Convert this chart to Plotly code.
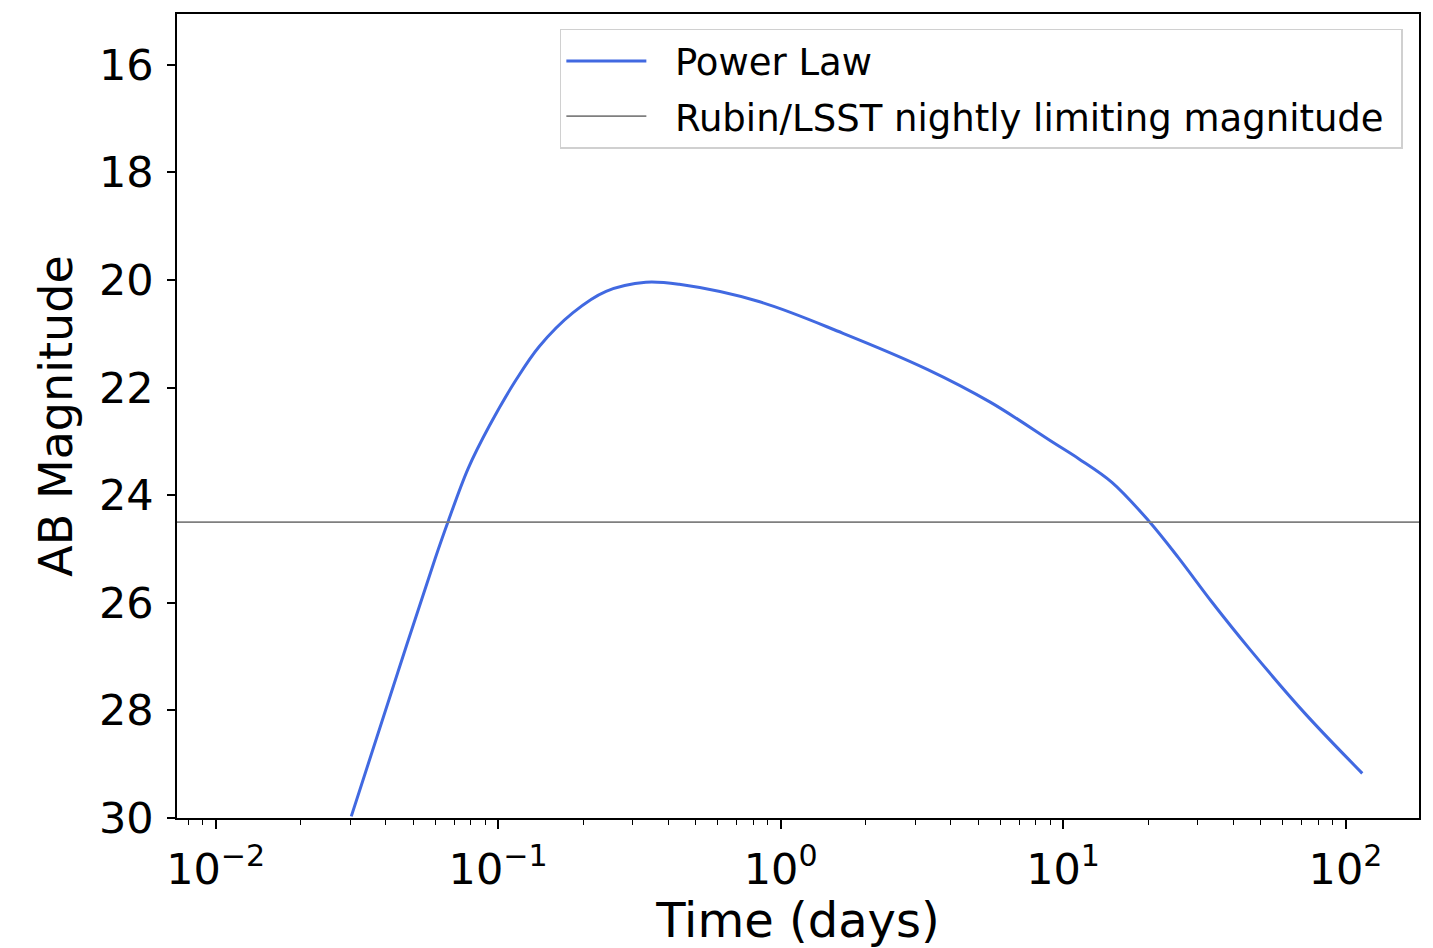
import plotly.graph_objects as go

# Light curve of the power-law model (time in days, AB magnitude)
time_days = [0.0302, 0.0442, 0.0598, 0.0667, 0.0782, 0.0931, 0.1159, 0.1400,
             0.1837, 0.2410, 0.3334, 0.4375, 0.8375, 1.663, 3.304, 5.521,
             9.226, 11.35, 14.89, 20.04, 25.59, 33.57, 45.92, 71.94, 114.6]
ab_mag = [29.97, 27.28, 25.18, 24.47, 23.51, 22.71, 21.85, 21.23,
          20.61, 20.21, 20.04, 20.08, 20.40, 20.99, 21.66, 22.27,
          23.02, 23.32, 23.76, 24.47, 25.16, 25.98, 26.87, 28.06, 29.17]

limit_mag = 24.5
series_name = "Power Law"
limit_name = "Rubin/LSST nightly limiting magnitude"

x_tick_exponents = [-2, -1, 0, 1, 2]
y_ticks = [16, 18, 20, 22, 24, 26, 28, 30]

FONT = "DejaVu Sans"
GAP = "\u00a0\u00a0"  # space between legend handle and label
PAD = "\u00a0"        # right padding inside the legend box

x_tickvals = [10 ** e for e in x_tick_exponents]
x_ticktext = ["10<sup>%s</sup>" % (str(e).replace("-", "\u2212")) for e in x_tick_exponents]
x_minor = [k * 10 ** d for d in range(-3, 3) for k in range(2, 10)]

fig = go.Figure()
fig.add_trace(go.Scatter(
    x=time_days, y=ab_mag, mode="lines", name=GAP + series_name + PAD,
    legendgroup="model",
    line=dict(color="#4169E1", width=3, shape="spline", smoothing=1.0),
))
fig.add_hline(
    y=limit_mag, line=dict(color="#7f7f7f", width=1.8),
    showlegend=True, name=GAP + limit_name + PAD, legendgroup="limit", layer="above",
)

fig.update_layout(
    width=1433, height=948,
    margin=dict(l=177, r=12, t=13, b=128),
    paper_bgcolor="white", plot_bgcolor="white",
    font=dict(family=FONT, color="black", size=43),
    showlegend=True,
    legend=dict(
        x=0.987, xanchor="right", y=0.9814, yanchor="top",
        bgcolor="white", bordercolor="#d0d0d0", borderwidth=1.5,
        font=dict(family=FONT, size=37, color="black"),
        itemwidth=80, tracegroupgap=4,
    ),
)

fig.update_xaxes(
    type="log", range=[-2.137, 2.26],
    tickmode="array", tickvals=x_tickvals, ticktext=x_ticktext,
    ticks="outside", ticklen=9, tickwidth=1.6, tickcolor="black",
    showline=True, linecolor="black", linewidth=1.6, mirror=True,
    showgrid=False, zeroline=False,
    tickfont=dict(family=FONT, size=43),
    ticklabelstandoff=4,
    minor=dict(tickmode="array", tickvals=x_minor, ticks="outside",
               ticklen=5, tickwidth=1.2, tickcolor="black", showgrid=False),
    title=dict(text="Time (days)", font=dict(family=FONT, size=48), standoff=8),
)
fig.update_yaxes(
    range=[30, 15.055],
    tickmode="array", tickvals=y_ticks,
    ticks="outside", ticklen=8, tickwidth=1.6, tickcolor="black",
    showline=True, linecolor="black", linewidth=1.6, mirror=True,
    showgrid=False, zeroline=False,
    tickfont=dict(family=FONT, size=43),
    ticklabelstandoff=5,
    title=dict(text="AB Magnitude", font=dict(family=FONT, size=46), standoff=12),
)

fig.write_html("out.html")
